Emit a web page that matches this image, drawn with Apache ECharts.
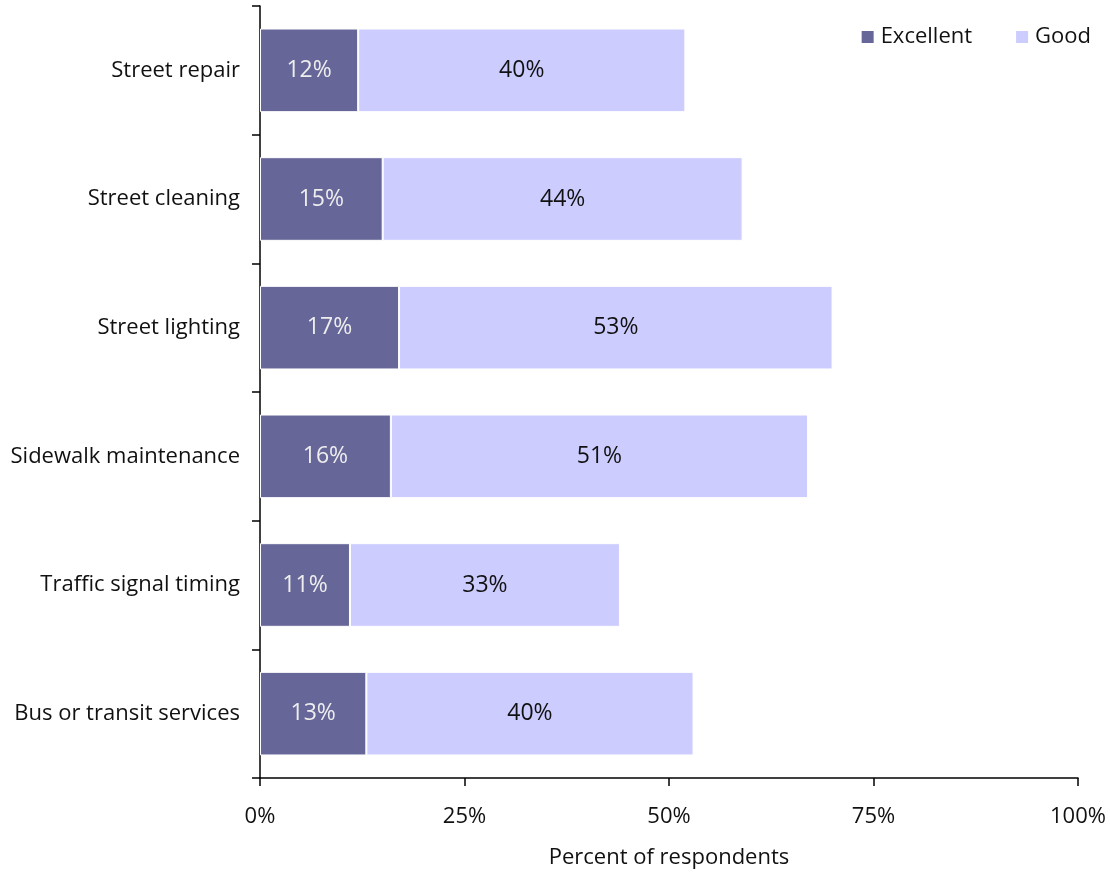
<!DOCTYPE html>
<html>
<head>
<meta charset="utf-8">
<script src="https://cdn.jsdelivr.net/npm/echarts@6/dist/echarts.min.js"></script>
<style>
html,body{margin:0;padding:0;background:#fff;}
#chart{width:1110px;height:874px;}
</style>
</head>
<body>
<div id="chart"></div>
<script>
const categories = ["Street repair", "Street cleaning", "Street lighting", "Sidewalk maintenance", "Traffic signal timing", "Bus or transit services"];
const excellent = [12, 15, 17, 16, 11, 13];
const good = [40, 44, 53, 51, 33, 40];
const xTicks = [0, 25, 50, 75, 100];

const FONT = "'Open Sans', Lato, sans-serif";
const chart = echarts.init(document.getElementById('chart'), null, {renderer: 'canvas'});
chart.setOption({
  animation: false,
  textStyle: {fontFamily: FONT},
  grid: {left: 260, right: 32, top: 6, bottom: 96, containLabel: false},
  legend: {
    data: ["Excellent", "Good"],
    right: 14, top: 21,
    icon: 'rect', itemWidth: 12, itemHeight: 12, itemGap: 44, itemStyle: {borderWidth: 0},
    textStyle: {fontSize: 22, color: '#111', fontFamily: FONT, padding: [0, 0, 0, 2]}
  },
  xAxis: {
    type: 'value', min: 0, max: 100, interval: 25,
    name: 'Percent of respondents', nameLocation: 'middle', nameGap: 80,
    nameTextStyle: {fontSize: 22, color: '#111', fontFamily: FONT, verticalAlign: 'middle'},
    axisLine: {show: true, lineStyle: {color: '#000', width: 1.5}},
    axisTick: {show: true, length: 8, lineStyle: {color: '#000', width: 1.5}},
    axisLabel: {fontSize: 22, color: '#111', margin: 28, fontFamily: FONT,
      formatter: v => xTicks.includes(v) ? v + '%' : ''},
    splitLine: {show: false}
  },
  yAxis: {
    type: 'category', data: categories, inverse: true,
    axisLine: {show: true, lineStyle: {color: '#000', width: 1.5}},
    axisTick: {show: true, length: 8, lineStyle: {color: '#000', width: 1.5}},
    axisLabel: {fontSize: 22, color: '#111', margin: 20, fontFamily: FONT}
  },
  series: [
    {
      name: 'Excellent', type: 'bar', stack: 'total', data: excellent,
      barCategoryGap: '35%',
      itemStyle: {color: '#666699', borderColor: '#fff', borderWidth: 1},
      label: {show: true, position: 'inside', formatter: '{c}%', fontSize: 23, color: '#eeeeee', fontFamily: FONT}
    },
    {
      name: 'Good', type: 'bar', stack: 'total', data: good,
      barCategoryGap: '35%',
      itemStyle: {color: '#ccccff', borderColor: '#fff', borderWidth: 1},
      label: {show: true, position: 'inside', formatter: '{c}%', fontSize: 23, color: '#111', fontFamily: FONT}
    }
  ]
});
</script>
</body>
</html>
